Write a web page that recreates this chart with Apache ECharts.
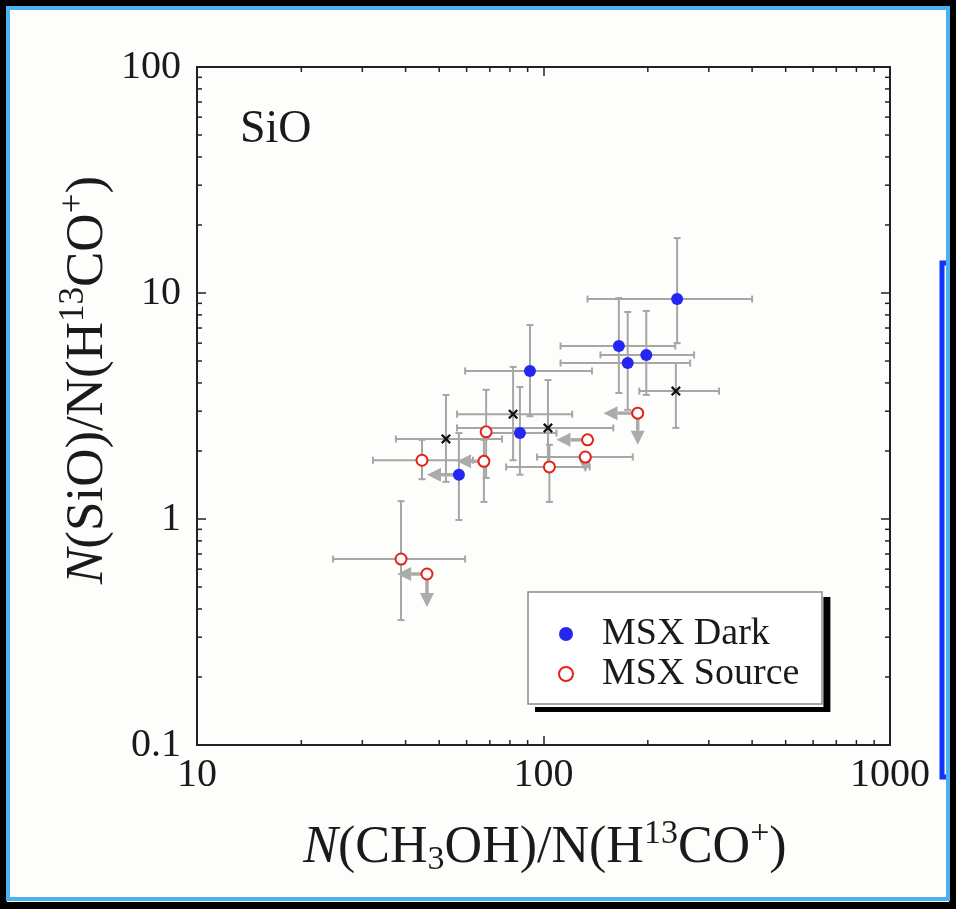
<!DOCTYPE html>
<html>
<head>
<meta charset="utf-8">
<script src="https://cdn.jsdelivr.net/npm/echarts@6.0.0/dist/echarts.min.js"></script>
<style>
  html, body { margin: 0; padding: 0; background: #000; }
  #chart { width: 956px; height: 909px; }
</style>
</head>
<body>
<div id="chart"></div>
<script>
// MSX Dark (filled blue)
const darkX = [243, 165, 198, 175, 91.4, 85.5, 57.0];
const darkY = [9.4, 5.83, 5.32, 4.90, 4.52, 2.40, 1.57];
const darkXLo = [134, 112, 146, 112, 59.4, 70.1, null];
const darkXHi = [400, 240, 272, 265, 138, 109, null];
const darkYLo = [6.0, 3.61, 3.54, 3.04, 2.85, 1.57, 0.99];
const darkYHi = [17.5, 9.5, 8.33, 8.24, 7.22, 3.84, 2.40];

// MSX Source (open red)
const srcX = [187, 134, 132, 104, 44.6, 67.3, 68.3, 38.8, 46.1];
const srcY = [2.94, 2.24, 1.88, 1.70, 1.82, 1.80, 2.43, 0.665, 0.571];
const srcXLo = [null, null, 95.8, 78.0, 32.2, null, null, 24.7, null];
const srcXHi = [null, null, 181, 136, 62.6, null, null, 59.4, null];
const srcYLo = [null, null, null, 1.19, 1.50, 1.19, 1.52, 0.357, null];
const srcYHi = [null, null, null, 2.13, 2.24, 2.24, 3.73, 1.20, null];

// black crosses
const crossX = [52.3, 81.7, 103, 241];
const crossY = [2.26, 2.91, 2.53, 3.68];
const crossXLo = [37.5, 56.3, 56.3, 189];
const crossXHi = [75.9, 121, 159, 321];
const crossYLo = [1.46, 1.82, 1.65, 2.53];
const crossYHi = [3.54, 4.71, 4.12, 4.90];

// upper limit arrows (from point to tip)
const limitFromX = [187, 187, 134, 132, 67.3, 46.1, 46.1, 57.0];
const limitFromY = [2.94, 2.94, 2.24, 1.88, 1.80, 0.571, 0.571, 1.57];
const limitToX = [149, 187, 109, 132, 56.3, 37.8, 46.1, 46.1];
const limitToY = [2.94, 2.13, 2.24, 1.61, 1.80, 0.571, 0.408, 1.57];

// minor tick positions
const minorSteps = [2, 3, 4, 5, 6, 7, 8, 9];
const xDecades = [10, 100];
const yDecades = [0.1, 1, 10];

const serif = 'Liberation Serif';
const barColor = '#a6a6a6';
const arrowColor = '#ababab';

const xMinor = [];
xDecades.forEach(d => minorSteps.forEach(s => xMinor.push([d * s, 1])));
const yMinor = [];
yDecades.forEach(d => minorSteps.forEach(s => yMinor.push([100, d * s])));

function errorBars(xs, ys, xLo, xHi, yLo, yHi) {
    return function (params, api) {
        const i = params.dataIndex;
        const c = api.coord([xs[i], ys[i]]);
        const style = { stroke: barColor, lineWidth: 2 };
        const cap = 3.5;
        const kids = [];
        if (xLo[i] != null) {
            const a = api.coord([xLo[i], ys[i]])[0];
            const b = api.coord([xHi[i], ys[i]])[0];
            kids.push({ type: 'line', shape: { x1: a, y1: c[1], x2: b, y2: c[1] }, style });
            kids.push({ type: 'line', shape: { x1: a, y1: c[1] - cap, x2: a, y2: c[1] + cap }, style });
            kids.push({ type: 'line', shape: { x1: b, y1: c[1] - cap, x2: b, y2: c[1] + cap }, style });
        }
        if (yLo[i] != null) {
            const a = api.coord([xs[i], yLo[i]])[1];
            const b = api.coord([xs[i], yHi[i]])[1];
            kids.push({ type: 'line', shape: { x1: c[0], y1: a, x2: c[0], y2: b }, style });
            kids.push({ type: 'line', shape: { x1: c[0] - cap, y1: a, x2: c[0] + cap, y2: a }, style });
            kids.push({ type: 'line', shape: { x1: c[0] - cap, y1: b, x2: c[0] + cap, y2: b }, style });
        }
        return { type: 'group', children: kids };
    };
}

function pairs(xs, ys) {
    return xs.map((v, i) => [v, ys[i]]);
}

const chart = echarts.init(document.getElementById('chart'));

const logX = {
    type: 'log', logBase: 10, min: 10, max: 1000,
    axisLine: { lineStyle: { color: '#222', width: 2 } },
    axisTick: { inside: true, length: 9, lineStyle: { color: '#222', width: 1.5 } },
    splitLine: { show: false }
};
const logY = {
    type: 'log', logBase: 10, min: 0.1, max: 100,
    axisLine: { lineStyle: { color: '#222', width: 2 } },
    axisTick: { inside: true, length: 9, lineStyle: { color: '#222', width: 1.5 } },
    splitLine: { show: false }
};

const option = {
    backgroundColor: '#fdfdfb',
    animation: false,
    grid: { left: 197, right: 66, top: 67, bottom: 164 },
    xAxis: [
        Object.assign({}, logX, {
            position: 'bottom',
            axisLabel: { fontFamily: serif, fontSize: 40, color: '#1a1a1a', margin: 10,
                         formatter: v => String(v) }
        }),
        Object.assign({}, logX, { position: 'top', axisLabel: { show: false } })
    ],
    yAxis: [
        Object.assign({}, logY, {
            position: 'left',
            axisLabel: { fontFamily: serif, fontSize: 40, color: '#1a1a1a', margin: 16,
                         formatter: v => String(v) }
        }),
        Object.assign({}, logY, { position: 'right', axisLabel: { show: false } })
    ],
    legend: {
        data: ['MSX Dark', 'MSX Source'],
        orient: 'vertical',
        left: 528,
        top: 592,
        padding: [23, 24, 14, 30],
        itemGap: 2,
        itemWidth: 14,
        itemHeight: 14,
        icon: 'circle',
        textStyle: { fontFamily: serif, fontSize: 38, color: '#1a1a1a', padding: [0, 0, 0, 24] },
        backgroundColor: '#fff',
        borderWidth: 0,
        shadowColor: '#000',
        shadowOffsetX: 7,
        shadowOffsetY: 5,
        shadowBlur: 0
    },
    graphic: [
        { type: 'rect', shape: { x: 942, y: 263, width: 40, height: 514 },
          style: { fill: 'none', stroke: '#1234ff', lineWidth: 5 }, silent: true },
        { type: 'rect', shape: { x: 0, y: 0, width: 956, height: 909 },
          style: { fill: 'none', stroke: '#000', lineWidth: 14 }, silent: true },
        { type: 'rect', shape: { x: 8, y: 8, width: 940, height: 891 },
          style: { fill: 'none', stroke: '#4cb2ee', lineWidth: 4 }, silent: true },
        // thin frame round the legend, above its shadowed background
        { type: 'rect', z: 100, silent: true,
          shape: { x: 528, y: 592, width: 294, height: 112 },
          style: { fill: 'none', stroke: '#8a8a8a', lineWidth: 1.5 } },
        { type: 'text', x: 240, y: 130, silent: true,
          style: { text: 'SiO', fontFamily: serif, fontSize: 46, fill: '#1a1a1a',
                   align: 'left', verticalAlign: 'middle' } },
        { type: 'text', x: 545, y: 848, silent: true,
          style: {
              text: '{i|N}(CH{sub|3}OH)/N(H{sup|13}CO{sup|+})',
              fontFamily: serif, fontSize: 52, fill: '#1a1a1a',
              align: 'center', verticalAlign: 'middle',
              rich: {
                  i: { fontFamily: serif, fontSize: 52, fontStyle: 'italic', fill: '#1a1a1a' },
                  sub: { fontFamily: serif, fontSize: 34, fill: '#1a1a1a', padding: [24, 0, 0, 0] },
                  sup: { fontFamily: serif, fontSize: 34, fill: '#1a1a1a', padding: [0, 0, 28, 0] }
              }
          } },
        { type: 'text', x: 88, y: 380, rotation: Math.PI / 2, silent: true,
          style: {
              text: '{i|N}(SiO)/N(H{sup|13}CO{sup|+})',
              fontFamily: serif, fontSize: 53, fill: '#1a1a1a',
              align: 'center', verticalAlign: 'middle',
              rich: {
                  i: { fontFamily: serif, fontSize: 53, fontStyle: 'italic', fill: '#1a1a1a' },
                  sup: { fontFamily: serif, fontSize: 35, fill: '#1a1a1a', padding: [0, 0, 28, 0] }
              }
          } }
    ],
    series: [
        {
            type: 'custom', name: 'xminor', data: xMinor, encode: { x: 0, y: 1 }, silent: true,
            renderItem: function (params, api) {
                const p = api.coord([api.value(0), 1]);
                const cs = params.coordSys;
                const st = { stroke: '#222', lineWidth: 1.5 };
                return { type: 'group', children: [
                    { type: 'line', shape: { x1: p[0], y1: cs.y + cs.height, x2: p[0], y2: cs.y + cs.height - 5 }, style: st },
                    { type: 'line', shape: { x1: p[0], y1: cs.y, x2: p[0], y2: cs.y + 5 }, style: st }
                ] };
            }
        },
        {
            type: 'custom', name: 'yminor', data: yMinor, encode: { x: 0, y: 1 }, silent: true,
            renderItem: function (params, api) {
                const p = api.coord([100, api.value(1)]);
                const cs = params.coordSys;
                const st = { stroke: '#222', lineWidth: 1.5 };
                return { type: 'group', children: [
                    { type: 'line', shape: { x1: cs.x, y1: p[1], x2: cs.x + 5, y2: p[1] }, style: st },
                    { type: 'line', shape: { x1: cs.x + cs.width, y1: p[1], x2: cs.x + cs.width - 5, y2: p[1] }, style: st }
                ] };
            }
        },
        {
            type: 'custom', name: 'darkErr', data: pairs(darkX, darkY), encode: { x: 0, y: 1 }, silent: true,
            renderItem: errorBars(darkX, darkY, darkXLo, darkXHi, darkYLo, darkYHi)
        },
        {
            type: 'custom', name: 'srcErr', data: pairs(srcX, srcY), encode: { x: 0, y: 1 }, silent: true,
            renderItem: errorBars(srcX, srcY, srcXLo, srcXHi, srcYLo, srcYHi)
        },
        {
            type: 'custom', name: 'crossErr', data: pairs(crossX, crossY), encode: { x: 0, y: 1 }, silent: true,
            renderItem: errorBars(crossX, crossY, crossXLo, crossXHi, crossYLo, crossYHi)
        },
        {
            type: 'custom', name: 'limits', data: pairs(limitFromX, limitFromY), encode: { x: 0, y: 1 }, silent: true,
            renderItem: function (params, api) {
                const i = params.dataIndex;
                const p0 = api.coord([limitFromX[i], limitFromY[i]]);
                const p1 = api.coord([limitToX[i], limitToY[i]]);
                const dx = p1[0] - p0[0], dy = p1[1] - p0[1];
                const len = Math.hypot(dx, dy) || 1;
                const ux = dx / len, uy = dy / len;
                const head = 14, half = 7;
                const bx = p1[0] - ux * head, by = p1[1] - uy * head;
                return { type: 'group', children: [
                    { type: 'line', shape: { x1: p0[0], y1: p0[1], x2: bx, y2: by },
                      style: { stroke: arrowColor, lineWidth: 3.5 } },
                    { type: 'polygon', shape: { points: [[p1[0], p1[1]], [bx - uy * half, by + ux * half], [bx + uy * half, by - ux * half]] },
                      style: { fill: arrowColor } }
                ] };
            }
        },
        {
            type: 'scatter', name: 'MSX Dark', data: pairs(darkX, darkY),
            symbol: 'circle', symbolSize: 12,
            itemStyle: { color: '#2626f2', opacity: 1 }
        },
        {
            type: 'scatter', name: 'MSX Source', data: pairs(srcX, srcY),
            symbol: 'circle', symbolSize: 11,
            itemStyle: { color: '#ffffff', borderColor: '#e2231a', borderWidth: 2, opacity: 1 }
        },
        {
            type: 'scatter', name: 'cross', data: pairs(crossX, crossY),
            symbol: 'path://M0,1.6L1.6,0L5,3.4L8.4,0L10,1.6L6.6,5L10,8.4L8.4,10L5,6.6L1.6,10L0,8.4L3.4,5Z',
            symbolSize: 10,
            itemStyle: { color: '#111', opacity: 1 }
        }
    ]
};

chart.setOption(option);
</script>
</body>
</html>
